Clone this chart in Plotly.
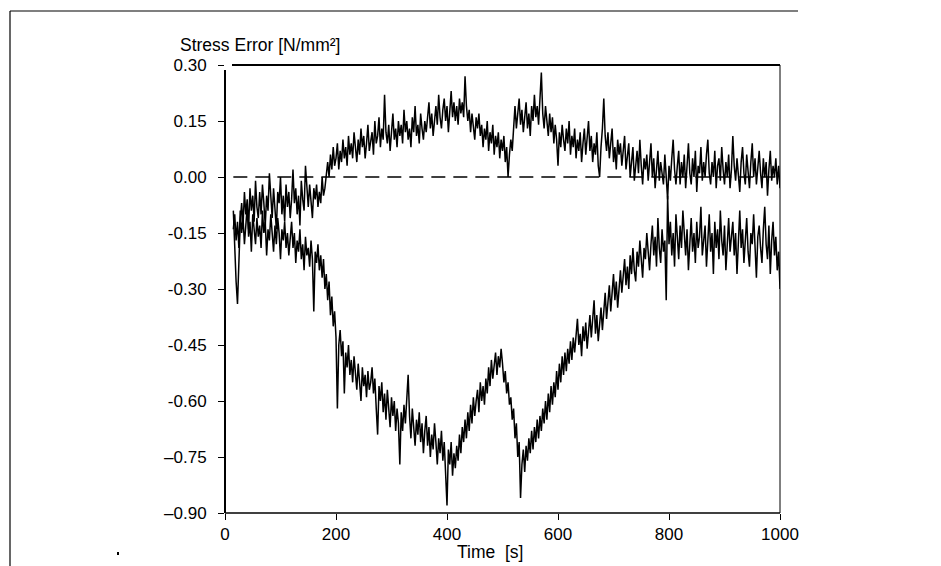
import plotly.graph_objects as go

# Sampling of the two recorded traces
t_start = 15.0
t_step = 2.5

# Upper trace: stress error [N/mm²]
series_upper = [
    -0.09, -0.20, -0.28, -0.34, -0.22, -0.12, -0.07, -0.13, -0.04, -0.10, -0.06, -0.14, -0.03, -0.09, -0.05, -0.12, -0.01, -0.08, -0.11, -0.04,
    -0.10, -0.02, -0.07, -0.13, -0.05, -0.09, 0.01, -0.06, -0.11, -0.03, -0.08, -0.14, -0.04, -0.07, 0.00, -0.10, -0.05, -0.12, -0.02, -0.08,
    -0.04, -0.11, -0.06, 0.02, -0.07, -0.03, -0.10, -0.05, -0.13, -0.01, -0.06, -0.09, 0.03, -0.04, -0.08, -0.02, -0.07, -0.11, -0.03, -0.06,
    -0.02, -0.08, -0.04, -0.07, 0.00, -0.05, -0.03, 0.01, 0.04, 0.00, 0.06, 0.02, 0.08, 0.03, 0.05, 0.09, 0.02, 0.07, 0.04, 0.10,
    0.05, 0.08, 0.03, 0.11, 0.06, 0.09, 0.05, 0.12, 0.07, 0.04, 0.10, 0.06, 0.13, 0.08, 0.11, 0.05, 0.09, 0.14, 0.07, 0.10,
    0.12, 0.06, 0.15, 0.09, 0.11, 0.16, 0.08, 0.13, 0.10, 0.22, 0.12, 0.09, 0.14, 0.07, 0.12, 0.17, 0.10, 0.13, 0.08, 0.15,
    0.11, 0.14, 0.09, 0.18, 0.12, 0.15, 0.10, 0.13, 0.08, 0.16, 0.12, 0.19, 0.11, 0.14, 0.09, 0.17, 0.13, 0.10, 0.15, 0.12,
    0.16, 0.20, 0.13, 0.17, 0.11, 0.15, 0.19, 0.14, 0.22, 0.16, 0.13, 0.18, 0.21, 0.15, 0.19, 0.12, 0.17, 0.23, 0.16, 0.20,
    0.15, 0.19, 0.14, 0.21, 0.17, 0.20, 0.16, 0.27, 0.19, 0.15, 0.18, 0.12, 0.17, 0.14, 0.10, 0.16, 0.13, 0.17, 0.11, 0.14,
    0.08, 0.13, 0.10, 0.15, 0.07, 0.12, 0.09, 0.14, 0.06, 0.11, 0.08, 0.12, 0.05, 0.10, 0.07, 0.11, 0.04, 0.08, 0.00, 0.06,
    0.10, 0.07, 0.14, 0.19, 0.13, 0.17, 0.21, 0.14, 0.18, 0.12, 0.16, 0.20, 0.13, 0.17, 0.11, 0.19, 0.15, 0.22, 0.16, 0.19,
    0.14, 0.20, 0.28, 0.17, 0.13, 0.19, 0.15, 0.11, 0.17, 0.12, 0.16, 0.09, 0.14, 0.10, 0.03, 0.12, 0.08, 0.14, 0.10, 0.07,
    0.13, 0.09, 0.15, 0.06, 0.11, 0.08, 0.13, 0.05, 0.10, 0.07, 0.12, 0.04, 0.09, 0.13, 0.06, 0.10, 0.15, 0.07, 0.11, 0.04,
    0.09, 0.06, 0.12, 0.03, 0.00, 0.08, 0.13, 0.21, 0.11, 0.07, 0.12, 0.05, 0.09, 0.13, 0.04, 0.08, 0.02, 0.10, 0.06, 0.09,
    0.03, 0.07, 0.11, 0.02, 0.06, 0.09, 0.00, 0.05, 0.08, -0.01, 0.04, 0.07, 0.01, 0.10, 0.03, -0.02, 0.05, 0.02, 0.06, -0.01,
    0.04, 0.09, 0.00, 0.05, -0.03, 0.02, 0.07, -0.01, 0.04, 0.01, -0.02, 0.06, 0.00, -0.06, 0.03, -0.01, 0.05, 0.10, 0.02, -0.02,
    0.03, 0.07, -0.02, 0.04, 0.00, 0.06, -0.03, 0.02, 0.09, 0.01, -0.02, 0.05, 0.00, 0.07, -0.04, 0.03, 0.01, 0.08, -0.01, 0.04,
    0.00, 0.06, 0.10, 0.01, -0.02, 0.04, 0.00, 0.07, -0.03, 0.03, 0.05, -0.01, 0.08, 0.02, -0.02, 0.04, 0.00, 0.06, -0.03, 0.02,
    0.11, 0.03, -0.01, 0.05, 0.00, -0.04, 0.04, 0.08, 0.01, -0.02, 0.06, 0.02, -0.03, 0.04, 0.09, 0.00, 0.05, -0.02, 0.03, 0.07,
    0.01, -0.03, 0.05, 0.00, 0.04, -0.05, 0.02, 0.07, -0.01, 0.03, 0.00, 0.05, -0.02, 0.03, -0.03,
]

# Lower trace: stress error [N/mm²]
series_lower = [
    -0.14, -0.10, -0.17, -0.12, -0.19, -0.09, -0.15, -0.11, -0.18, -0.13, -0.08, -0.16, -0.12, -0.20, -0.10, -0.14, -0.18, -0.11, -0.16, -0.13,
    -0.19, -0.09, -0.15, -0.12, -0.21, -0.14, -0.17, -0.10, -0.16, -0.20, -0.13, -0.18, -0.11, -0.15, -0.22, -0.14, -0.17, -0.12, -0.19, -0.15,
    -0.21, -0.16, -0.12, -0.19, -0.15, -0.23, -0.17, -0.20, -0.14, -0.22, -0.18, -0.25, -0.16, -0.21, -0.19, -0.24, -0.17, -0.22, -0.36, -0.20,
    -0.23, -0.18, -0.25, -0.21, -0.27, -0.22, -0.30, -0.26, -0.33, -0.28, -0.37, -0.32, -0.40, -0.36, -0.43, -0.62, -0.45, -0.41, -0.48, -0.44,
    -0.58, -0.47, -0.51, -0.45, -0.53, -0.49, -0.55, -0.48, -0.52, -0.57, -0.50, -0.54, -0.60, -0.51, -0.56, -0.53, -0.59, -0.52, -0.57, -0.55,
    -0.51, -0.58, -0.54, -0.62, -0.69, -0.56, -0.60, -0.55, -0.63, -0.58, -0.65, -0.57, -0.61, -0.67, -0.59, -0.64, -0.60, -0.68, -0.62, -0.66,
    -0.77, -0.63, -0.68, -0.61, -0.66, -0.59, -0.53, -0.64, -0.70, -0.62, -0.67, -0.72, -0.65, -0.69, -0.63, -0.71, -0.66, -0.74, -0.68, -0.64,
    -0.72, -0.67, -0.75, -0.69, -0.73, -0.66, -0.71, -0.77, -0.70, -0.74, -0.68, -0.76, -0.71, -0.79, -0.88, -0.73, -0.77, -0.71, -0.80, -0.74,
    -0.78, -0.72, -0.76, -0.69, -0.74, -0.67, -0.71, -0.65, -0.70, -0.63, -0.68, -0.61, -0.66, -0.59, -0.64, -0.60, -0.57, -0.63, -0.55, -0.60,
    -0.56, -0.61, -0.54, -0.58, -0.51, -0.56, -0.49, -0.54, -0.50, -0.47, -0.53, -0.48, -0.51, -0.46, -0.50, -0.55, -0.52, -0.58, -0.55, -0.61,
    -0.59, -0.65, -0.62, -0.70, -0.66, -0.75, -0.71, -0.86, -0.77, -0.73, -0.79, -0.72, -0.76, -0.70, -0.74, -0.68, -0.73, -0.67, -0.71, -0.65,
    -0.70, -0.64, -0.68, -0.62, -0.66, -0.60, -0.65, -0.58, -0.63, -0.56, -0.61, -0.55, -0.59, -0.52, -0.57, -0.50, -0.55, -0.48, -0.53, -0.47,
    -0.52, -0.46, -0.50, -0.44, -0.49, -0.43, -0.47, -0.41, -0.38, -0.45, -0.42, -0.48, -0.40, -0.44, -0.39, -0.46, -0.41, -0.37, -0.43, -0.39,
    -0.33, -0.42, -0.37, -0.44, -0.39, -0.35, -0.41, -0.36, -0.31, -0.38, -0.34, -0.29, -0.36, -0.31, -0.26, -0.33, -0.28, -0.35, -0.30, -0.25,
    -0.31, -0.27, -0.22, -0.29, -0.24, -0.30, -0.21, -0.26, -0.19, -0.25, -0.28, -0.20, -0.24, -0.17, -0.23, -0.27, -0.19, -0.22, -0.15, -0.21,
    -0.25, -0.18, -0.13, -0.21, -0.16, -0.24, -0.11, -0.19, -0.23, -0.14, -0.20, -0.17, -0.33, -0.05, -0.18, -0.12, -0.21, -0.15, -0.24, -0.10,
    -0.17, -0.22, -0.13, -0.19, -0.09, -0.16, -0.21, -0.14, -0.25, -0.18, -0.11, -0.20, -0.15, -0.23, -0.12, -0.19, -0.16, -0.08, -0.21, -0.17,
    -0.13, -0.24, -0.18, -0.10, -0.20, -0.15, -0.26, -0.12, -0.19, -0.14, -0.22, -0.09, -0.17, -0.21, -0.13, -0.25, -0.18, -0.11, -0.20, -0.16,
    -0.12, -0.21, -0.15, -0.26, -0.17, -0.09, -0.19, -0.14, -0.23, -0.16, -0.11, -0.20, -0.24, -0.15, -0.18, -0.10, -0.21, -0.27, -0.16, -0.13,
    -0.19, -0.23, -0.14, -0.08, -0.18, -0.22, -0.13, -0.26, -0.17, -0.12, -0.21, -0.16, -0.25, -0.20, -0.30,
]

time_upper = [t_start + t_step * i for i in range(len(series_upper))]
time_lower = [t_start + t_step * i for i in range(len(series_lower))]

# Zero reference (dashed)
reference_x = [15, 1000]
reference_y = [0.0, 0.0]

y_tickvals = [0.30, 0.15, 0.00, -0.15, -0.30, -0.45, -0.60, -0.75, -0.90]
y_ticktext = ["0.30", "0.15", "0.00", "-0.15", "-0.30", "-0.45", "-0.60", "–0.75", "–0.90"]
x_tickvals = [0, 200, 400, 600, 800, 1000]
x_ticktext = ["0", "200", "400", "600", "800", "1000"]

# The page shows the figure offset by the body margin (8 px)
OFF = 8
W, H = 941 - OFF, 566 - OFF
L, R, T, B = 225 - OFF, 780 - OFF, 65 - OFF, 513 - OFF


def px(xp):
    return (xp - OFF - L) / (R - L)


def py(yp):
    return (B - (yp - OFF)) / (B - T)


fig = go.Figure()
fig.add_trace(go.Scatter(x=reference_x, y=reference_y, mode="lines",
                         line=dict(color="black", width=1.6, dash="14px,8px"),
                         showlegend=False, hoverinfo="skip"))
fig.add_trace(go.Scatter(x=time_upper, y=series_upper, mode="lines",
                         line=dict(color="black", width=1.5),
                         showlegend=False))
fig.add_trace(go.Scatter(x=time_lower, y=series_lower, mode="lines",
                         line=dict(color="black", width=1.5),
                         showlegend=False))

fam = "Liberation Sans, Arial, sans-serif"
tick_font = dict(family=fam, size=17, color="black")
title_font = dict(family=fam, size=17.5, color="black")

shapes = [
    # plot frame
    dict(type="line", xref="paper", yref="paper", x0=0, x1=0, y0=0, y1=py(70),
         line=dict(color="black", width=2)),
    dict(type="line", xref="paper", yref="paper", x0=px(232), x1=1, y0=1, y1=1,
         line=dict(color="black", width=2)),
    dict(type="line", xref="paper", yref="paper", x0=0, x1=1, y0=0, y1=0,
         line=dict(color="black", width=1.5)),
    dict(type="line", xref="paper", yref="paper", x0=1, x1=1, y0=0, y1=1,
         line=dict(color="black", width=1)),
    # outer page frame
    dict(type="line", xref="paper", yref="paper", x0=px(10), x1=px(798), y0=py(11), y1=py(11),
         line=dict(color="black", width=1.2)),
    dict(type="line", xref="paper", yref="paper", x0=px(10), x1=px(10), y0=py(11), y1=py(566),
         line=dict(color="black", width=1.2)),
    dict(type="line", xref="paper", yref="paper", x0=px(939), x1=px(939), y0=py(8), y1=py(566),
         line=dict(color="black", width=1.2)),
    # speck
    dict(type="rect", xref="paper", yref="paper", x0=px(117), x1=px(119), y0=py(555), y1=py(552),
         fillcolor="black", line=dict(width=0)),
]

fig.update_layout(
    width=W, height=H,
    margin=dict(l=L, r=W - R, t=T, b=H - B),
    paper_bgcolor="white", plot_bgcolor="white",
    font=tick_font,
    shapes=shapes,
    xaxis=dict(range=[0, 1000], tickvals=x_tickvals, ticktext=x_ticktext,
               ticks="outside", ticklen=6, tickwidth=1, tickcolor="black",
               showgrid=False, zeroline=False, showline=False, tickfont=tick_font),
    yaxis=dict(range=[-0.9, 0.3], tickvals=y_tickvals, ticktext=y_ticktext,
               ticks="outside", ticklen=6, tickwidth=1, tickcolor="black",
               showgrid=False, zeroline=False, showline=False, tickfont=tick_font,
               ticklabelstandoff=8),
    annotations=[
        dict(text="Stress Error [N/mm²]", xref="paper", yref="paper",
             x=px(178), y=py(45), xanchor="left", yanchor="middle",
             showarrow=False, font=title_font),
        dict(text="Time  [s]", xref="paper", yref="paper",
             x=px(490), y=py(552), xanchor="center", yanchor="middle",
             showarrow=False, font=title_font),
    ],
)

fig.write_html("out.html")
